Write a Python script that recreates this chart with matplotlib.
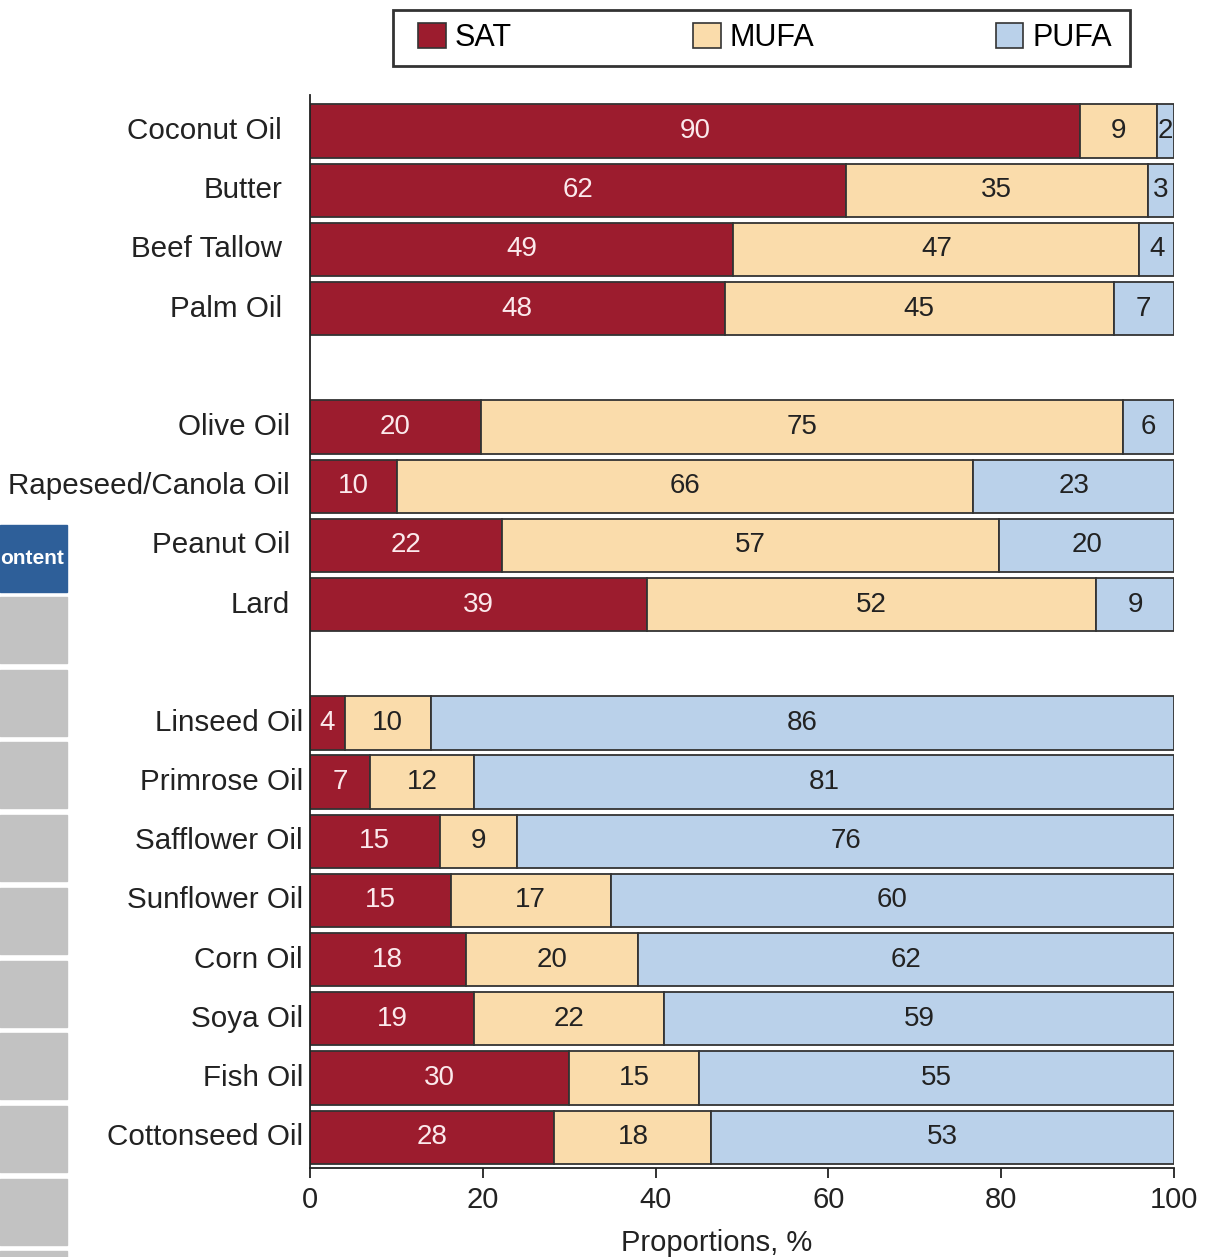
import numpy as np
import matplotlib
matplotlib.use("Agg")
from matplotlib import pyplot as plt
from matplotlib.patches import Rectangle, Patch

plt.rcParams['font.family'] = ['Liberation Sans', 'DejaVu Sans']

oils = ["Coconut Oil", "Butter", "Beef Tallow", "Palm Oil",
        "Olive Oil", "Rapeseed/Canola Oil", "Peanut Oil", "Lard",
        "Linseed Oil", "Primrose Oil", "Safflower Oil", "Sunflower Oil",
        "Corn Oil", "Soya Oil", "Fish Oil", "Cottonseed Oil"]
group = [0, 0, 0, 0, 1, 1, 1, 1, 2, 2, 2, 2, 2, 2, 2, 2]
sat = [90, 62, 49, 48, 20, 10, 22, 39, 4, 7, 15, 15, 18, 19, 30, 28]
mufa = [9, 35, 47, 45, 75, 66, 57, 52, 10, 12, 9, 17, 20, 22, 15, 18]
pufa = [2, 3, 4, 7, 6, 23, 20, 9, 86, 81, 76, 60, 62, 59, 55, 53]
series = ["SAT", "MUFA", "PUFA"]
xticks = [0, 20, 40, 60, 80, 100]

colors = ["#9c1c2e", "#fadcab", "#bad1ea"]
text_colors = ["#fbe9ec", "#222222", "#222222"]

W, H = 1218, 1257
fig = plt.figure(figsize=(W / 100, H / 100), dpi=100)
ax = fig.add_axes([310 / W, 1 - 1168 / H, 864 / W, (1168 - 95) / H])

vals = np.array([sat, mufa, pufa], dtype=float)
# each row is scaled so the three parts fill 100 %
props = vals / vals.sum(axis=0) * 100
ypos = np.arange(len(oils)) + np.array(group)

left = np.zeros(len(oils))
for k in range(3):
    ax.barh(ypos, props[k], left=left, height=0.9, color=colors[k],
            edgecolor="#333333", linewidth=1.3)
    for i in range(len(oils)):
        ax.text(left[i] + props[k][i] / 2, ypos[i], str(int(vals[k][i])),
                ha="center", va="center", fontsize=20, color=text_colors[k])
    left += props[k]

# category names, a bit closer to the axis in each lower block
offsets = [28, 20, 7]
for i, name in enumerate(oils):
    ax.annotate(name, xy=(0, ypos[i]), xycoords=("axes fraction", "data"),
                xytext=(-offsets[group[i]] * 0.72, 0), textcoords="offset points",
                ha="right", va="center", fontsize=21.3, color="#222222")

ax.set_xlim(0, 100)
ax.set_ylim(ypos[-1] + 0.52, -0.61)
ax.set_yticks([])
ax.set_xticks(xticks)
ax.set_xticklabels([str(t) for t in xticks], fontsize=21, color="#222222")
ax.tick_params(axis="x", length=7, width=1.3, pad=6, color="#222222")
for s in ["top", "right"]:
    ax.spines[s].set_visible(False)
for s in ["left", "bottom"]:
    ax.spines[s].set_linewidth(1.3)
    ax.spines[s].set_color("#222222")
ax.set_xlabel("Proportions, %", fontsize=21, color="#222222")
ax.xaxis.set_label_coords(0.471, -0.057)

# legend entries spread across a separately drawn frame
handles = [Patch(facecolor=colors[k], edgecolor="#333333", linewidth=1.2) for k in range(3)]
fig.legend(handles, series, loc="center left", ncol=3, mode="expand",
           bbox_to_anchor=(418 / W, 1 - 66 / H, 694 / W, 56 / H),
           fontsize=22, frameon=False, handlelength=0.9,
           handleheight=0.9, handletextpad=0.3, borderpad=0,
           borderaxespad=0)
fig.patches.append(Rectangle((393 / W, 1 - 66 / H), 737 / W, 56 / H,
                             transform=fig.transFigure, facecolor="white",
                             edgecolor="#333333", linewidth=2, zorder=0))

# strip of boxes along the left edge
fig.patches.append(Rectangle((0, 1 - 592 / H), 67 / W, 67 / H,
                             transform=fig.transFigure, color="#2e5f99"))
for k in range(10):
    top = 597 + k * 72.7
    fig.patches.append(Rectangle((0, 1 - (top + 66) / H), 67 / W, 66 / H,
                                 transform=fig.transFigure, color="#c2c2c2"))
fig.text(64 / W, 1 - 558 / H, "ontent", ha="right", va="center",
         fontsize=15, fontweight="bold", color="white")

fig.savefig("out.png", dpi=100)
